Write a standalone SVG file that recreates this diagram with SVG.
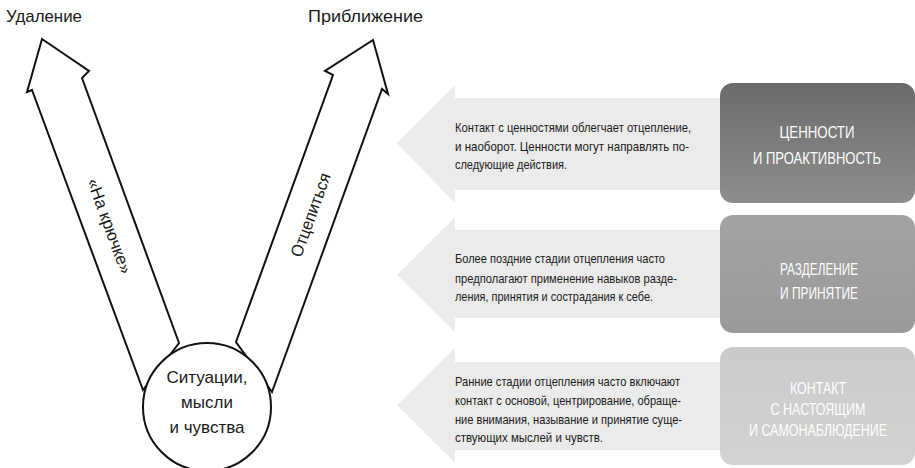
<svg xmlns="http://www.w3.org/2000/svg" width="915" height="468" viewBox="0 0 915 468">
<style>
text{font-family:"Liberation Sans",Arial,sans-serif;fill:#1a1a1a}
.t{font-size:17px}
.p{font-size:13.5px}
.b{font-size:16.5px;fill:#fff;text-anchor:middle}
.arr{fill:#fff;stroke:#111;stroke-width:2;stroke-linejoin:miter}
.ga{fill:#ebebeb}
</style>
<defs>
<linearGradient id="g1" x1="0" y1="0" x2="0" y2="1"><stop offset="0" stop-color="#6b6b6b"/><stop offset="1" stop-color="#8e8e8e"/></linearGradient>
<linearGradient id="g2" x1="0" y1="0" x2="0" y2="1"><stop offset="0" stop-color="#a3a3a3"/><stop offset="1" stop-color="#9a9a9a"/></linearGradient>
<linearGradient id="g3" x1="0" y1="0" x2="0" y2="1"><stop offset="0" stop-color="#cacaca"/><stop offset="1" stop-color="#d2d2d2"/></linearGradient>
</defs>
<g id="connectors">
<polygon class="arr" points="143,390 32,90 27,92 42,39 89,71 82,78 179,343"/>
<polygon class="arr" points="236,342 333,75 325,71 373,40 388,94 382,89 272,392"/>
<text class="t" text-anchor="middle" transform="translate(104,228) rotate(70)" textLength="100" lengthAdjust="spacingAndGlyphs">«На крючке»</text>
<text class="t" text-anchor="middle" transform="translate(316,217) rotate(-70)" textLength="88" lengthAdjust="spacingAndGlyphs">Отцепиться</text>
</g>
<g id="situations">
<circle cx="207" cy="407" r="64" fill="#fff" stroke="#111" stroke-width="2"/>
<text class="t" x="207" y="383" text-anchor="middle">Ситуации,</text>
<text class="t" x="207" y="408" text-anchor="middle">мысли</text>
<text class="t" x="207" y="433" text-anchor="middle">и чувства</text>
</g>
<g id="labels">
<text class="t" x="6" y="22" textLength="76" lengthAdjust="spacingAndGlyphs">Удаление</text>
<text class="t" x="308" y="22" textLength="115" lengthAdjust="spacingAndGlyphs">Приближение</text>
</g>
<g id="values">
<polygon class="ga" points="397,143 455,85 455,98 722,98 722,190 455,190 455,203"/>
<text class="p" x="455" y="132" textLength="236" lengthAdjust="spacingAndGlyphs">Контакт с ценностями облегчает отцепление,</text>
<text class="p" x="455" y="151" textLength="234" lengthAdjust="spacingAndGlyphs">и наоборот. Ценности могут направлять по-</text>
<text class="p" x="455" y="169" textLength="112" lengthAdjust="spacingAndGlyphs">следующие действия.</text>
<rect x="720" y="83" width="195" height="120" rx="13" fill="url(#g1)"/>
<text class="b" x="817" y="138" textLength="75" lengthAdjust="spacingAndGlyphs">ЦЕННОСТИ</text>
<text class="b" x="817" y="164" textLength="128" lengthAdjust="spacingAndGlyphs">И ПРОАКТИВНОСТЬ</text>
</g>
<g id="separation">
<polygon class="ga" points="397,275 455,217 455,230 722,230 722,318 455,318 455,332"/>
<text class="p" x="455" y="263" textLength="210" lengthAdjust="spacingAndGlyphs">Более поздние стадии отцепления часто</text>
<text class="p" x="455" y="283" textLength="222" lengthAdjust="spacingAndGlyphs">предполагают применение навыков разде-</text>
<text class="p" x="455" y="301" textLength="198" lengthAdjust="spacingAndGlyphs">ления, принятия и сострадания к себе.</text>
<rect x="720" y="215" width="195" height="118" rx="13" fill="url(#g2)"/>
<text class="b" x="819" y="275" textLength="78" lengthAdjust="spacingAndGlyphs">РАЗДЕЛЕНИЕ</text>
<text class="b" x="819" y="299" textLength="78" lengthAdjust="spacingAndGlyphs">И ПРИНЯТИЕ</text>
</g>
<g id="contact">
<polygon class="ga" points="397,405 455,348 455,362 722,362 722,450 455,450 455,463"/>
<text class="p" x="455" y="386" textLength="225" lengthAdjust="spacingAndGlyphs">Ранние стадии отцепления часто включают</text>
<text class="p" x="455" y="405" textLength="226" lengthAdjust="spacingAndGlyphs">контакт с основой, центрирование, обраще-</text>
<text class="p" x="455" y="424" textLength="227" lengthAdjust="spacingAndGlyphs">ние внимания, называние и принятие суще-</text>
<text class="p" x="455" y="442" textLength="148" lengthAdjust="spacingAndGlyphs">ствующих мыслей и чувств.</text>
<rect x="720" y="347" width="195" height="118" rx="13" fill="url(#g3)"/>
<text class="b" x="818" y="394" textLength="56" lengthAdjust="spacingAndGlyphs">КОНТАКТ</text>
<text class="b" x="818" y="415" textLength="95" lengthAdjust="spacingAndGlyphs">С НАСТОЯЩИМ</text>
<text class="b" x="818" y="436" textLength="138" lengthAdjust="spacingAndGlyphs">И САМОНАБЛЮДЕНИЕ</text>
</g>
</svg>
